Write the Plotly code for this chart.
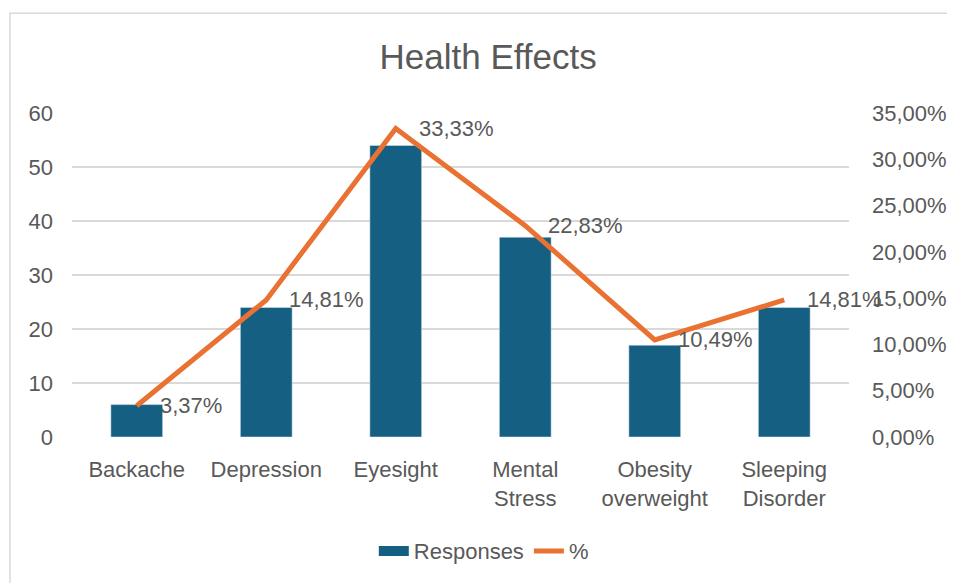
import plotly.graph_objects as go

categories = ["Backache", "Depression", "Eyesight", "Mental<br>Stress", "Obesity<br>overweight", "Sleeping<br>Disorder"]
responses = [6, 24, 54, 37, 17, 24]
percent = [3.37, 14.81, 33.33, 22.83, 10.49, 14.81]

pct_labels = [("%.2f%%" % v).replace(".", ",") for v in percent]

BAR = "#156082"
LINE = "#E97132"
TXT = "#595959"
GRID = "#D9D9D9"
FONT = "Liberation Sans, Arial, sans-serif"

fig = go.Figure()
fig.add_trace(go.Bar(
    x=categories, y=responses, name="Responses",
    marker=dict(color=BAR), width=0.4, showlegend=False,
))
# legend proxy for the bar series (wide rectangle swatch)
fig.add_trace(go.Scatter(
    x=[None], y=[None], name="Responses", mode="lines",
    line=dict(color=BAR, width=12),
))
fig.add_trace(go.Scatter(
    x=categories, y=percent, name="%", yaxis="y2",
    mode="lines", line=dict(color=LINE, width=5),
))

annotations = [
    dict(x=c, y=v, xref="x", yref="y2", text=t, showarrow=False,
         xanchor="left", yanchor="middle", xshift=21,
         font=dict(size=22, color=TXT, family=FONT))
    for c, v, t in zip(categories, percent, pct_labels)
]

fig.update_layout(
    width=947, height=575,
    paper_bgcolor="white", plot_bgcolor="white",
    separators=",.",
    font=dict(family=FONT, color=TXT, size=22),
    title=dict(text="Health Effects", x=0.507, xanchor="center", y=0.915, yanchor="middle",
               font=dict(size=35, color=TXT, family=FONT)),
    margin=dict(l=64, r=106, t=105, b=145),
    showlegend=True,
    legend=dict(orientation="h", x=0.53, xanchor="center", y=-0.348, yanchor="middle",
                font=dict(size=22, color=TXT), traceorder="normal"),
    xaxis=dict(type="category", categoryorder="array", categoryarray=categories,
               range=[-0.5, len(categories) - 0.5],
               showgrid=False, showline=False, ticks="",
               tickfont=dict(size=22, color=TXT), ticklabelstandoff=17),
    yaxis=dict(range=[0, 60], dtick=10, showgrid=True, gridcolor=GRID, gridwidth=1.5,
               zeroline=False, ticks="", tickfont=dict(size=22, color=TXT), ticklabelstandoff=18,
               automargin=False),
    yaxis2=dict(range=[0, 35], dtick=5, overlaying="y", side="right", showgrid=False,
                zeroline=False, ticksuffix="%", tickformat=".2f", ticks="",
                tickfont=dict(size=22, color=TXT), ticklabelstandoff=22, automargin=False),
    annotations=annotations,
    shapes=[dict(type="rect", xref="paper", yref="paper", x0=-0.0798, x1=1.3, y0=-0.7, y1=1.3077,
                 line=dict(color=GRID, width=1.5), layer="below")],
)

fig.write_html("out.html")
